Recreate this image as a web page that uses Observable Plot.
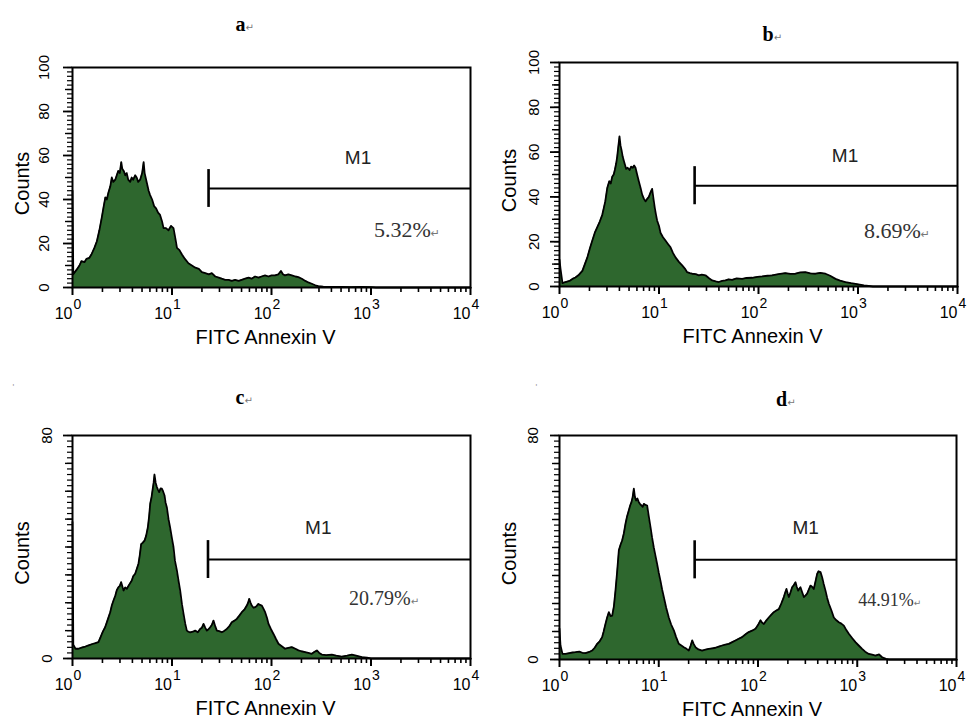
<!DOCTYPE html>
<!-- build 9: flow cytometry histograms a-d, outward axis ticks drawn with rules -->
<html>
<head>
<meta charset="utf-8">
<title>FITC Annexin V histograms</title>
<script src="https://cdn.jsdelivr.net/npm/d3@7"></script>
<script src="https://cdn.jsdelivr.net/npm/@observablehq/plot@0.6"></script>
<style>
  html, body { margin: 0; padding: 0; background: #fff; }
  #wrap { position: relative; width: 971px; height: 721px; background: #fff; overflow: hidden; }
  .pane { position: absolute; }
</style>
</head>
<body>
<div id="wrap"></div>
<script>
// tick labels and texts
const xMajorTicks = [1, 10, 100, 1000, 10000];
const xTickBase = "10";
const xTickExponents = ["0", "1", "2", "3", "4"];
const yTickLabelsTop = [0, 20, 40, 60, 80, 100];
const yTickLabelsBottom = [0, 80];
const yMaxes = [100, 100, 80, 80];
const xAxisLabel = "FITC Annexin V";
const yAxisLabel = "Counts";
const gateName = "M1";
const panelTitles = ["a↵", "b↵", "c↵", "d↵"];
const gatePercents = ["5.32%↵", "8.69%↵", "20.79%↵", "44.91%↵"];
const gateStart = [23.3, 22.8, 23, 23];      // M1 lower bound (FITC intensity)
const gateLevel = [45, 45, 35.5, 35.6];       // counts level of the M1 bar

// ---------- data: [log10(FITC Annexin V intensity), counts] ----------
const histA = [[0,44],[0.008,6],[0.04,8],[0.07,10],[0.09,12],[0.12,11.5],[0.14,13],[0.17,13.5],[0.19,15],[0.22,18],[0.245,21],[0.27,26],[0.295,32],[0.31,36],[0.33,41],[0.345,40],[0.36,43],[0.38,46],[0.395,50],[0.41,48],[0.43,49],[0.445,51],[0.46,53],[0.475,52],[0.49,57],[0.50,54],[0.515,53],[0.53,51],[0.545,52],[0.56,49],[0.58,48],[0.595,50],[0.61,49],[0.63,51],[0.645,50],[0.66,48],[0.68,49],[0.70,52],[0.715,57],[0.725,52],[0.74,49],[0.765,44],[0.78,42],[0.80,40],[0.82,37],[0.84,36],[0.86,34],[0.88,33],[0.90,30],[0.915,27],[0.94,27],[0.965,26],[0.99,28],[1.015,27],[1.035,22],[1.05,18],[1.075,17],[1.10,15],[1.13,13],[1.165,11],[1.20,10],[1.235,9],[1.27,8.5],[1.30,7],[1.335,6.5],[1.37,6],[1.40,6.5],[1.435,5],[1.47,4.5],[1.50,4],[1.535,3.5],[1.57,3.5],[1.60,3],[1.635,3.5],[1.67,3],[1.70,3.5],[1.735,4],[1.77,4.5],[1.80,4],[1.835,5],[1.87,4.5],[1.90,5],[1.935,5.5],[1.97,5],[2.00,5.5],[2.035,5.5],[2.07,6],[2.095,7.5],[2.115,6],[2.135,5.5],[2.17,6],[2.205,5.5],[2.24,5],[2.27,4.7],[2.305,4],[2.34,3],[2.37,2.3],[2.405,1.7],[2.44,1],[2.47,0.6],[2.52,0.4],[2.6,0.3],[2.7,0.3],[2.8,0.2],[2.9,0.3],[3.0,0.2],[3.05,0],[4,0]];

const histB = [[0,12],[0.01,8],[0.03,1.5],[0.06,2],[0.1,2.5],[0.13,3.4],[0.16,4],[0.19,5],[0.23,7],[0.255,10],[0.28,13],[0.305,17],[0.33,20.5],[0.355,24],[0.38,26.5],[0.405,29],[0.43,32],[0.445,35],[0.46,38],[0.48,44],[0.50,47],[0.515,46],[0.53,49],[0.545,50],[0.556,52],[0.57,55],[0.58,58],[0.59,62],[0.603,67],[0.613,63],[0.623,61],[0.635,58],[0.647,56],[0.66,54],[0.67,52.5],[0.685,53],[0.704,52],[0.72,53.5],[0.737,53],[0.75,54],[0.764,53],[0.78,50],[0.797,47],[0.815,44],[0.831,41],[0.85,39],[0.864,38],[0.88,39],[0.898,40],[0.915,42],[0.931,43.6],[0.945,39],[0.958,35],[0.97,32],[0.981,29.5],[1.0,27],[1.015,24],[1.04,22],[1.065,20.5],[1.09,19],[1.116,17.5],[1.14,15],[1.166,13],[1.2,11],[1.233,9.4],[1.26,8],[1.283,6.4],[1.31,6],[1.333,5.7],[1.37,5.5],[1.40,5],[1.43,5.3],[1.467,5],[1.5,3.8],[1.534,2.7],[1.57,2.3],[1.601,2],[1.635,2.5],[1.668,2.7],[1.70,3.2],[1.735,3],[1.78,3.6],[1.836,3.4],[1.88,3.8],[1.936,3.9],[1.99,4.3],[2.037,4.5],[2.09,4.8],[2.137,5],[2.2,5.5],[2.271,6],[2.32,5.6],[2.371,5.7],[2.42,6.3],[2.472,6.4],[2.52,5.9],[2.573,5.7],[2.62,6.1],[2.673,5.7],[2.72,4.8],[2.774,3.4],[2.82,2.6],[2.874,2],[2.93,1.5],[2.975,1.2],[3.06,0.5],[3.15,0],[4,0]];

const histC = [[0,49],[0.008,5],[0.03,3.5],[0.06,3.5],[0.1,4],[0.13,4.3],[0.161,4.7],[0.2,5.2],[0.23,5.5],[0.261,5.9],[0.28,7.5],[0.295,8.8],[0.31,10],[0.328,11.2],[0.35,13.5],[0.379,16.6],[0.395,19],[0.412,20.8],[0.43,22.5],[0.445,24.5],[0.462,25.6],[0.475,26],[0.489,27.4],[0.5,26],[0.513,24.4],[0.53,25.5],[0.546,25],[0.57,26.5],[0.596,28],[0.61,29.5],[0.63,30.4],[0.645,32],[0.663,34],[0.676,37],[0.69,41],[0.705,41.5],[0.724,42.3],[0.74,44],[0.757,47],[0.77,51],[0.781,55.5],[0.795,58],[0.804,60.3],[0.815,63],[0.824,66],[0.836,63],[0.848,61.5],[0.86,60.5],[0.871,59.7],[0.885,61],[0.898,60.9],[0.91,60],[0.925,58.5],[0.935,56],[0.948,54.3],[0.965,50],[0.981,47],[1.0,43],[1.015,40],[1.03,35],[1.049,31.6],[1.065,28],[1.082,24.4],[1.1,19.5],[1.116,16],[1.133,12.5],[1.149,10],[1.165,9.6],[1.183,9.4],[1.21,9.6],[1.233,10],[1.26,9.4],[1.283,10.6],[1.3,11],[1.317,12.4],[1.335,11],[1.35,10],[1.367,10.5],[1.384,11.2],[1.4,12],[1.417,13.6],[1.435,11.5],[1.451,10],[1.475,9.8],[1.501,9.4],[1.525,9.9],[1.551,10.6],[1.575,11.5],[1.601,13],[1.625,13.5],[1.651,14.2],[1.675,15.3],[1.702,16.6],[1.727,17.5],[1.752,19],[1.765,20],[1.776,21.4],[1.79,20],[1.802,19],[1.82,18.2],[1.836,18.4],[1.85,18.8],[1.869,19.6],[1.885,19.2],[1.903,19],[1.92,17.8],[1.936,16.6],[1.955,14.5],[1.97,12.4],[1.995,10.5],[2.02,8.8],[2.045,7],[2.07,5.3],[2.1,4.5],[2.137,3.5],[2.17,3.8],[2.204,4.1],[2.24,3.5],[2.271,2.9],[2.3,2.6],[2.338,2.3],[2.37,2],[2.405,1.7],[2.43,2.3],[2.456,2.9],[2.48,2],[2.506,1.4],[2.55,1.2],[2.606,1.4],[2.65,1],[2.707,0.7],[2.76,1],[2.807,1.4],[2.85,1],[2.908,0.5],[2.96,0.3],[3.0,0],[4,0]];

const histD = [[0,11],[0.01,5],[0.03,2],[0.06,2],[0.1,2.3],[0.13,2.5],[0.161,2.6],[0.2,2.8],[0.23,2.4],[0.262,2.3],[0.3,2.7],[0.329,3.2],[0.355,4.2],[0.38,5.6],[0.405,6.5],[0.43,8],[0.445,10],[0.463,12.7],[0.48,15],[0.497,16.9],[0.515,15.5],[0.531,15.7],[0.548,19],[0.564,24.6],[0.58,31],[0.598,39],[0.615,41],[0.631,42.5],[0.648,45],[0.665,48.5],[0.68,51],[0.698,53.2],[0.712,55],[0.725,56.2],[0.737,58],[0.749,61],[0.76,58],[0.772,56.8],[0.785,57.5],[0.799,56.2],[0.812,55.5],[0.826,55],[0.838,54.5],[0.85,55.6],[0.866,55.2],[0.883,55],[0.9,51],[0.917,47.3],[0.933,43.5],[0.95,40],[0.967,37],[0.984,34],[1.0,31],[1.018,28],[1.034,25],[1.051,22.3],[1.075,18.5],[1.101,15],[1.125,12.5],[1.152,10.4],[1.175,8],[1.202,5.6],[1.228,5],[1.253,4.4],[1.28,3.8],[1.303,3.2],[1.32,4.8],[1.337,6.8],[1.353,5.5],[1.37,4.4],[1.4,3.6],[1.437,3.2],[1.47,3.5],[1.504,3.8],[1.54,4],[1.572,4.2],[1.605,4.6],[1.639,5],[1.67,5.3],[1.706,5.6],[1.74,6.2],[1.773,6.8],[1.806,7.4],[1.84,8],[1.875,9],[1.907,9.8],[1.94,10.3],[1.975,11],[2.0,12.3],[2.025,14],[2.04,13.2],[2.059,12.7],[2.085,14],[2.109,15],[2.135,16],[2.159,16.9],[2.185,17.5],[2.21,18],[2.235,20],[2.26,22.3],[2.275,24],[2.287,25.2],[2.3,23.5],[2.311,22.3],[2.328,24],[2.344,25.8],[2.36,26.5],[2.378,27.6],[2.39,26],[2.405,24.6],[2.415,25.2],[2.428,25.8],[2.445,24],[2.462,22.3],[2.478,22.8],[2.495,23.5],[2.512,25],[2.529,26.4],[2.545,26],[2.562,25.2],[2.58,28],[2.596,30.6],[2.61,31.5],[2.63,31.2],[2.646,29.4],[2.662,27],[2.68,24.6],[2.697,22],[2.714,19.9],[2.74,17.5],[2.764,15],[2.79,14],[2.814,13.3],[2.84,12.8],[2.865,12.1],[2.89,10.5],[2.915,9.2],[2.95,7.6],[2.982,6.2],[3.015,5],[3.049,3.8],[3.08,2.8],[3.116,2],[3.15,1.7],[3.184,1.4],[3.22,1.8],[3.251,0.8],[3.29,0.2],[3.32,0],[4,0]];

// ---------- layout (pixels) ----------
const FILL = "#2e672e";
const xMinor = [];
for (let e = 0; e < 4; e++) for (let k = 2; k <= 9; k++) xMinor.push(k * Math.pow(10, e));

const panes = [
  { left: 0,   top: 0,   width: 490, height: 360, mL: 72, mR: 20, mT: 67, mB: 73,
    hist: histA, yLabels: yTickLabelsTop, yMedium: [10,30,50,70,90], yLabelDx: 28,
    titleDx: -36, titleDy: -37, m1: [2.87, 59], pct: [3.03, 26], pctSize: 22, gateHalf: 8.6 },
  { left: 480, top: 0,   width: 491, height: 360, mL: 79, mR: 14, mT: 62, mB: 74,
    hist: histB, yLabels: yTickLabelsTop, yMedium: [10,30,50,70,90], yLabelDx: 25,
    titleDx: 4, titleDy: -22, m1: [2.87, 58.5], pct: [3.06, 25], pctSize: 22, gateHalf: 8.5 },
  { left: 0,   top: 360, width: 490, height: 361, mL: 72, mR: 20, mT: 75, mB: 63,
    hist: histC, yLabels: yTickLabelsBottom, yMedium: [10,20,30,40,50,60,70], yLabelDx: 25,
    titleDx: -36, titleDy: -32, m1: [2.47, 47], pct: [2.78, 21.5], pctSize: 20, gateHalf: 6.8, mark: [-60, -52] },
  { left: 480, top: 360, width: 491, height: 361, mL: 79, mR: 15, mT: 75, mB: 62,
    hist: histD, yLabels: yTickLabelsBottom, yMedium: [10,20,30,40,50,60,70], yLabelDx: 26,
    titleDx: 18, titleDy: -30, m1: [2.48, 47], pct: [3.01, 21], pctSize: 18, gateHalf: 6.8, mark: [-24, -52] }
];

const wrap = document.getElementById("wrap");

panes.forEach((p, i) => {
  const data = p.hist.map(([l, c]) => ({ x: Math.pow(10, l), y: c }));
  const ymax = yMaxes[i];
  const yMinor = d3.range(0, ymax + 0.1, 2);
  const pxPerCount = (p.height - p.mT - p.mB) / ymax;
  const pxPerDecade = (p.width - p.mL - p.mR) / 4;
  const below = px => -px / pxPerCount;                 // y value px pixels below 0
  const leftOf = px => Math.pow(10, -px / pxPerDecade); // x value px pixels left of 1

  const marks = [
    Plot.areaY(data, { x: "x", y: "y", fill: FILL }),
    Plot.lineY(data, { x: "x", y: "y", stroke: "black", strokeWidth: 1.8 }),
    Plot.frame({ stroke: "black", strokeWidth: 2 }),
    // outward ticks
    Plot.ruleX(xMinor, { x: d => d, y1: 0, y2: below(5), stroke: "#000", strokeWidth: 1.6 }),
    Plot.ruleX(xMajorTicks, { x: d => d, y1: 0, y2: below(8), stroke: "#000", strokeWidth: 2 }),
    Plot.ruleY(yMinor, { y: d => d, x1: 1, x2: leftOf(5), stroke: "#000", strokeWidth: 1.2 }),
    Plot.ruleY(p.yMedium, { y: d => d, x1: 1, x2: leftOf(7), stroke: "#000", strokeWidth: 1.4 }),
    Plot.ruleY(p.yLabels, { y: d => d, x1: 1, x2: leftOf(9), stroke: "#000", strokeWidth: 1.8 }),
    // tick labels
    Plot.text(xMajorTicks, { x: d => d, text: () => xTickBase, frameAnchor: "bottom", textAnchor: "end",
      dy: 26, lineAnchor: "middle", fontSize: 16 }),
    Plot.text(xMajorTicks, { x: d => d, text: (d, j) => xTickExponents[j], frameAnchor: "bottom", textAnchor: "start",
      dx: 1, dy: 17.5, lineAnchor: "middle", fontSize: 14 }),
    Plot.text(p.yLabels, { y: d => d, text: d => String(d), frameAnchor: "left", dx: -p.yLabelDx,
      rotate: -90, textAnchor: "middle", lineAnchor: "middle", fontSize: 15 }),
    // axis labels
    Plot.text([yAxisLabel], { text: d => d, frameAnchor: "left", dx: -50, dy: 6, rotate: -90,
      textAnchor: "middle", lineAnchor: "middle", fontSize: 20 }),
    Plot.text([xAxisLabel], { text: d => d, frameAnchor: "bottom", dx: -6, dy: 50,
      lineAnchor: "middle", fontSize: 20 }),
    // panel title
    Plot.text([panelTitles[i]], { text: d => d, frameAnchor: "top", dx: p.titleDx, dy: p.titleDy,
      textAnchor: "start", lineAnchor: "bottom", fontFamily: "Liberation Serif, Times New Roman, serif",
      fontWeight: "bold", fontSize: 20 }),
    // M1 gate
    Plot.ruleX([gateStart[i]], { x: d => d, y1: gateLevel[i] - p.gateHalf, y2: gateLevel[i] + p.gateHalf,
      stroke: "black", strokeWidth: 2.6 }),
    Plot.ruleY([gateLevel[i]], { y: d => d, x1: gateStart[i], x2: 10000, stroke: "black", strokeWidth: 2 }),
    Plot.text([gateName], { x: () => Math.pow(10, p.m1[0]), y: () => p.m1[1], text: d => d,
      fontSize: 19, fill: "#222", lineAnchor: "middle" }),
    Plot.text([gatePercents[i]], { x: () => Math.pow(10, p.pct[0]), y: () => p.pct[1], text: d => d,
      textAnchor: "start", lineAnchor: "middle", fontFamily: "Liberation Serif, Times New Roman, serif",
      fontSize: p.pctSize, fill: "#333" })
  ];
  if (p.mark) {
    marks.push(Plot.text(["'"], { text: d => d, frameAnchor: "top-left", dx: p.mark[0], dy: p.mark[1],
      fontSize: 9, fill: "#999" }));
  }
  const svg = Plot.plot({
    width: p.width, height: p.height,
    marginLeft: p.mL, marginRight: p.mR, marginTop: p.mT, marginBottom: p.mB,
    style: { fontFamily: "Liberation Sans, Arial, sans-serif", color: "black" },
    x: { type: "log", domain: [1, 10000], axis: null },
    y: { domain: [0, ymax], axis: null },
    marks
  });
  svg.style.background = "transparent";
  svg.style.overflow = "visible";
  // render the Word paragraph mark "↵" small and grey
  svg.querySelectorAll("text").forEach(el => {
    const t = el.textContent;
    if (t.endsWith("↵") && el.childElementCount === 0) {
      el.textContent = t.slice(0, -1);
      const ts = document.createElementNS("http://www.w3.org/2000/svg", "tspan");
      ts.setAttribute("font-size", "0.5em");
      ts.setAttribute("font-weight", "normal");
      ts.setAttribute("fill", "#777");
      ts.setAttribute("font-family", "DejaVu Sans");
      ts.textContent = "↵";
      el.appendChild(ts);
    }
  });
  const div = document.createElement("div");
  div.className = "pane";
  div.style.left = p.left + "px";
  div.style.top = p.top + "px";
  div.appendChild(svg);
  wrap.appendChild(div);
});
</script>
</body>
</html>
